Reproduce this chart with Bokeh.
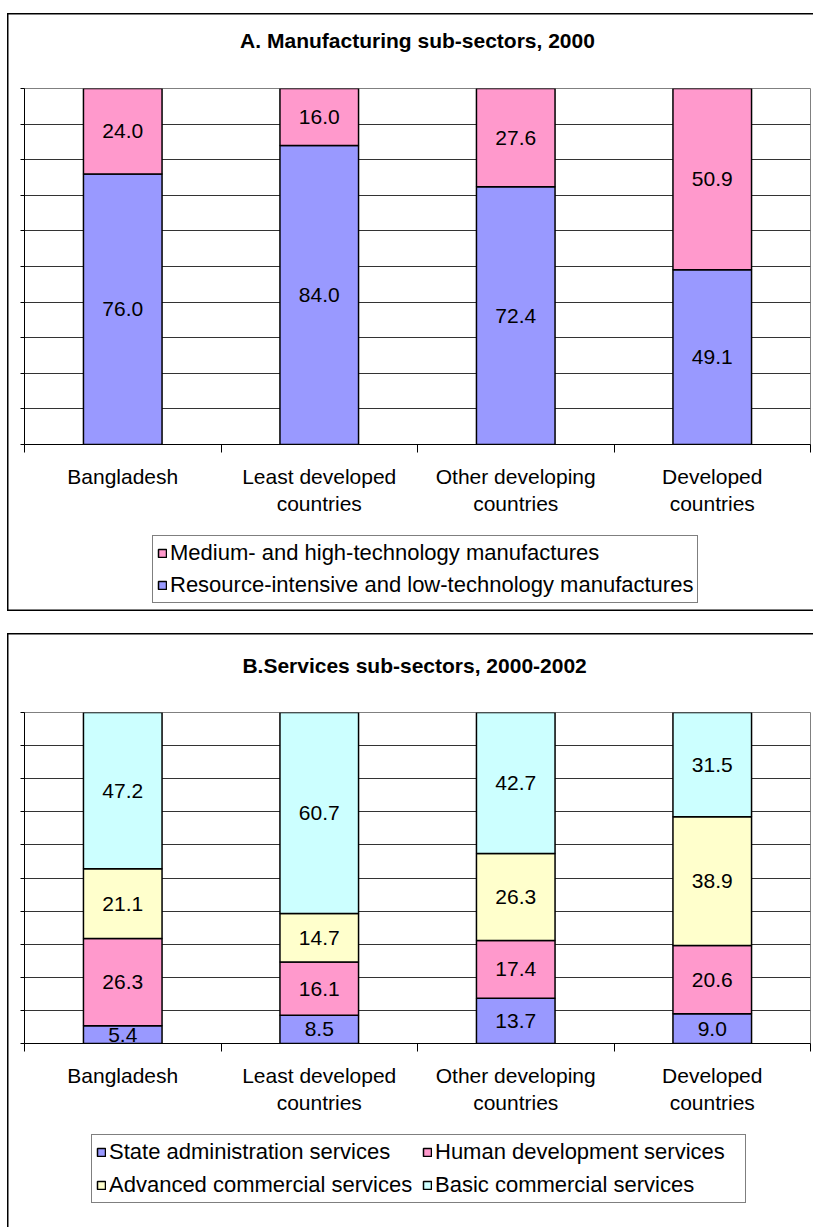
import numpy as np
from bokeh.plotting import figure
from bokeh.models import (ColumnDataSource, Range1d, FixedTicker, Legend,
                          LegendItem, Column)
from bokeh.embed import file_html
from bokeh.resources import INLINE
from bokeh.core.properties import value

# ---------------- data ----------------
categories = ["Bangladesh", "Least developed\ncountries",
              "Other developing\ncountries", "Developed\ncountries"]

a_title = "A. Manufacturing sub-sectors, 2000"
a_series = ["Resource-intensive and low-technology manufactures",
            "Medium- and high-technology manufactures"]
a_resource = [76.0, 84.0, 72.4, 49.1]
a_medium = [24.0, 16.0, 27.6, 50.9]

b_title = "B.Services sub-sectors,  2000-2002"
b_series = ["State administration services", "Human development services",
            "Advanced commercial services", "Basic commercial services"]
b_state = [5.4, 8.5, 13.7, 9.0]
b_human = [26.3, 16.1, 17.4, 20.6]
b_advanced = [21.1, 14.7, 26.3, 38.9]
b_basic = [47.2, 60.7, 42.7, 31.5]

y_ticks = list(range(0, 101, 10))

# ---------------- styles ----------------
FONT = "Liberation Sans"
FS = "21px"
LFS = "22px"
PINK = "#FF99CC"
BLUE = "#9999FF"
YELLOW = "#FFFFCC"
CYAN = "#CCFFFF"
W = 806


def series_source(values):
    n = len(categories)
    keys = ["s%d" % i for i in range(len(values))]
    data = {"x": [i + 0.5 for i in range(n)]}
    for k, v in zip(keys, values):
        data[k] = v
    return keys, ColumnDataSource(data)


def make_chart(title, values, colors, height, top, bottom, standoff):
    n = len(categories)
    xs = [i + 0.5 for i in range(n)]
    p = figure(width=W, height=height, x_range=Range1d(0, n),
               y_range=Range1d(0, 100), output_backend="svg",
               toolbar_location=None, min_border_left=17, min_border_right=3,
               min_border_top=top, min_border_bottom=bottom)
    p.title.text = title + "\n\u00a0"
    p.title.align = "center"
    p.title.text_font = FONT
    p.title.text_font_size = FS
    p.title.text_font_style = "bold"
    p.title.text_color = "black"
    p.title.standoff = standoff

    keys, src = series_source(values)
    p.vbar_stack(keys, x="x", width=0.4, source=src, fill_color=colors,
                 line_color="black", line_width=1.5)

    # data labels at segment centres
    arr = np.array(values, dtype=float)
    cum = np.cumsum(arr, axis=0)
    mids = cum - arr / 2.0
    lx, ly, lt = [], [], []
    for si in range(arr.shape[0]):
        for ci in range(n):
            lx.append(xs[ci])
            ly.append(mids[si, ci])
            lt.append("%.1f" % arr[si, ci])
    p.text(x=lx, y=ly, text=lt, text_align="center", text_baseline="middle",
           text_font=value(FONT), text_font_size=FS, text_color="black")

    # x axis: category labels at centres, ticks at boundaries
    xa = p.xaxis[0]
    xa.ticker = FixedTicker(ticks=xs, minor_ticks=list(range(n + 1)))
    xa.major_label_overrides = {x: c for x, c in zip(xs, categories)}
    xa.major_tick_line_color = None
    xa.major_tick_out = 0
    xa.major_tick_in = 0
    xa.minor_tick_out = 8
    xa.minor_tick_in = 0
    xa.minor_tick_line_color = "black"
    xa.axis_line_color = "black"
    xa.major_label_text_font = FONT
    xa.major_label_text_font_size = FS
    xa.major_label_text_color = "black"
    xa.major_label_standoff = 12

    ya = p.yaxis[0]
    ya.ticker = FixedTicker(ticks=y_ticks)
    ya.major_label_overrides = {t: "" for t in y_ticks}
    ya.major_label_standoff = 0
    ya.major_tick_out = 4
    ya.major_tick_in = 0
    ya.minor_tick_line_color = None
    ya.axis_line_color = "black"

    p.xgrid.visible = False
    p.ygrid.ticker = FixedTicker(ticks=y_ticks)
    p.ygrid.grid_line_color = "#333333"
    p.ygrid.grid_line_width = 1

    p.outline_line_color = "#808080"
    p.outline_line_width = 1
    p.background_fill_color = "white"
    p.border_fill_alpha = 0
    return p


def make_legend(names, values, colors, order, ncols, orientation, height, loc,
                spacing, label_width):
    q = figure(width=W, height=height, x_range=Range1d(0, 1),
               y_range=Range1d(0, 1), x_axis_type=None, y_axis_type=None,
               output_backend="svg", toolbar_location=None, min_border=0)
    q.outline_line_color = None
    q.background_fill_alpha = 0
    q.border_fill_alpha = 0
    keys, src = series_source(values)
    rs = q.vbar_stack(keys, x="x", width=0.4, source=src, fill_color=colors,
                      line_color="black", line_width=1.5, visible=False)
    items = [LegendItem(label=names[i], renderers=[rs[i]]) for i in order]
    lg = Legend(items=items, location=loc, orientation=orientation,
                ncols=ncols)
    lg.label_text_font = FONT
    lg.label_text_font_size = LFS
    lg.label_text_color = "black"
    lg.glyph_width = 10
    lg.glyph_height = 10
    lg.label_standoff = 3
    lg.label_height = 26
    lg.label_width = label_width
    lg.spacing = spacing
    lg.padding = 4
    lg.margin = 0
    lg.inactive_fill_alpha = 0
    lg.border_line_color = "black"
    lg.border_line_width = 1
    lg.background_fill_color = "white"
    lg.background_fill_alpha = 1
    q.add_layout(lg, "center")
    return q


frame_a = {"box-shadow": "inset 1.5px 0 0 #000, inset 0 1.5px 0 #000, "
                         "inset 0 -1.5px 0 #000"}
frame_b = {"box-shadow": "inset 1.5px 0 0 #000, inset 0 1.5px 0 #000"}

a_values = [a_resource, a_medium]
a_colors = [BLUE, PINK]
pa = make_chart(a_title, a_values, a_colors, 515, 75, 84, 27)
la = make_legend(a_series, a_values, a_colors, [1, 0], 1, "vertical", 83,
                 (128, 8), 6, 20)
ga = Column(children=[pa, la], spacing=0, margin=(13, 0, 0, 7),
            styles=frame_a)

b_values = [b_state, b_human, b_advanced, b_basic]
b_colors = [BLUE, PINK, YELLOW, CYAN]
pb = make_chart(b_title, b_values, b_colors, 489, 79, 79, 25)
lb = make_legend(b_series, b_values, b_colors, [0, 1, 2, 3], 2,
                 "horizontal", 105, (67, 24), 7, 306)
gb = Column(children=[pb, lb], spacing=0, margin=(22, 0, 0, 7),
            styles=frame_b)

page = Column(children=[ga, gb], spacing=0)
open("out.html", "w").write(file_html(page, INLINE))
